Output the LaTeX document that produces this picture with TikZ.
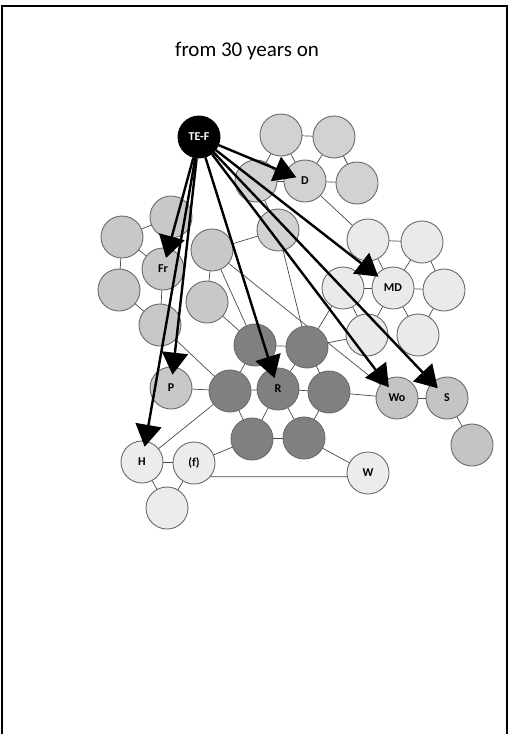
\documentclass[tikz,border=0pt]{standalone}
\usepackage{fontspec}
\setmainfont{Carlito}
\usetikzlibrary{arrows.meta,backgrounds}
\definecolor{dcol}{HTML}{D2D2D2}
\definecolor{fcol}{HTML}{C8C8C8}
\definecolor{mcol}{HTML}{EAEAEA}
\definecolor{kcol}{HTML}{808080}
\definecolor{lcol}{HTML}{ECECEC}
\definecolor{wcol}{HTML}{C4C4C4}
\definecolor{rimcol}{HTML}{6A6A6A}
\definecolor{linkcol}{HTML}{4A4A4A}
\begin{document}
\begin{tikzpicture}[x=1pt,y=-1pt,
  circ/.style={circle,draw=rimcol,line width=0.9pt,minimum size=42pt,inner sep=0pt,
    font=\bfseries\fontsize{12}{13}\selectfont},
  dn/.style={circ,fill=dcol},
  fn/.style={circ,fill=fcol},
  mn/.style={circ,fill=mcol},
  kn/.style={circ,fill=kcol},
  ln/.style={circ,fill=lcol},
  wn/.style={circ,fill=wcol},
  tefnode/.style={circ,fill=black,draw=black,text=white},
  link/.style={draw=linkcol,line width=0.7pt},
  bigarrow/.style={draw=black,line width=2.4pt,-{Triangle[length=22pt,width=26pt]}},
  frame/.style={draw=black,line width=2pt}]
\useasboundingbox (0,0) rectangle (509,734);
\coordinate (f1) at (2,736);
\coordinate (f2) at (2,6);
\coordinate (f3) at (507,6);
\coordinate (f4) at (507,736);
\draw[frame] (f1) -- (f2) -- (f3) -- (f4);

\node[font=\fontsize{21}{25}\selectfont] (title) at (247,51) {from 30 years on};

% D cluster
\node[dn] (c1) at (281,135) {};
\node[dn] (c2) at (334,137) {};
\node[dn] (D)  at (305,181) {D};
\node[dn] (c4) at (357,183) {};
\node[dn] (c5) at (256,181) {};
\node[dn] (g5) at (278,230) {};
% Fr cluster
\node[fn] (a1) at (171,217) {};
\node[fn] (a2) at (122,237) {};
\node[fn] (Fr) at (163,269) {Fr};
\node[fn] (a4) at (119,290) {};
\node[fn] (a5) at (160,325) {};
\node[fn] (a6) at (212,250) {};
\node[fn] (a7) at (207,302) {};
% MD cluster
\node[mn] (m1) at (368,240) {};
\node[mn] (m2) at (422,242) {};
\node[mn] (m3) at (343,288) {};
\node[mn] (MD) at (393,288) {MD};
\node[mn] (m5) at (444,290) {};
\node[mn] (m6) at (367,335) {};
\node[mn] (m7) at (418,335) {};
% dark cluster
\node[kn] (d1) at (255,345) {};
\node[kn] (d2) at (307,347) {};
\node[kn] (d3) at (230,391) {};
\node[kn] (R)  at (278,389) {R};
\node[kn] (d5) at (329,392) {};
\node[kn] (d6) at (252,439) {};
\node[kn] (d7) at (304,438) {};
% others
\node[fn] (P)  at (171,388) {P};
\node[ln] (H)  at (142,462) {H};
\node[ln] (ff) at (194,463) {(f)};
\node[ln] (h3) at (167,508) {};
\node[ln] (W)  at (368,473) {W};
\node[wn] (Wo) at (397,398) {Wo};
\node[wn] (S)  at (447,398) {S};
\node[wn] (s2) at (472,445) {};
\node[tefnode] (tef) at (199,137) {TE-F};

\begin{scope}[on background layer]
\foreach \u/\v in {c1/c2,c1/c5,c1/D,c2/D,c2/c4,D/c4,c5/D,c5/g5,D/m1,
  a1/a2,a1/Fr,a2/Fr,a2/a4,a4/a5,Fr/a5,a6/a7,a6/g5,a6/d1,a7/d1,a5/d3,g5/d2,
  m1/m2,m1/MD,m2/MD,m2/m5,m3/MD,MD/m5,m3/m6,MD/m6,MD/m7,m5/m7,m3/d2,m6/d2,
  d1/d2,d1/d3,d1/R,d2/R,d2/d5,d3/R,R/d5,d3/d6,R/d6,R/d7,d5/d7,d6/d7,P/d3,
  H/d3,H/ff,H/h3,ff/h3,ff/d6,d7/W,d5/Wo,Wo/S,S/s2}
  \draw[link] (\u.center) -- (\v.center);
\draw[link] (a6.center) -- (Wo.center);
\draw[link] (ff.-40) -- (W.190);
\end{scope}

\draw[bigarrow,shorten >=-12pt] (tef) -- (D);
\draw[bigarrow,shorten >=-10pt] (tef) -- (Fr);
\draw[bigarrow,shorten >=-8pt] (tef) -- (P);
\draw[bigarrow,shorten >=-6pt] (tef) -- (H);
\draw[bigarrow,shorten >=-10pt] (tef) -- (R);
\draw[bigarrow,shorten >=-3pt] (tef) -- (MD);
\draw[bigarrow,shorten >=-8pt] (tef) -- (Wo);
\draw[bigarrow,shorten >=-8pt] (tef) -- (S);
\end{tikzpicture}
\end{document}
